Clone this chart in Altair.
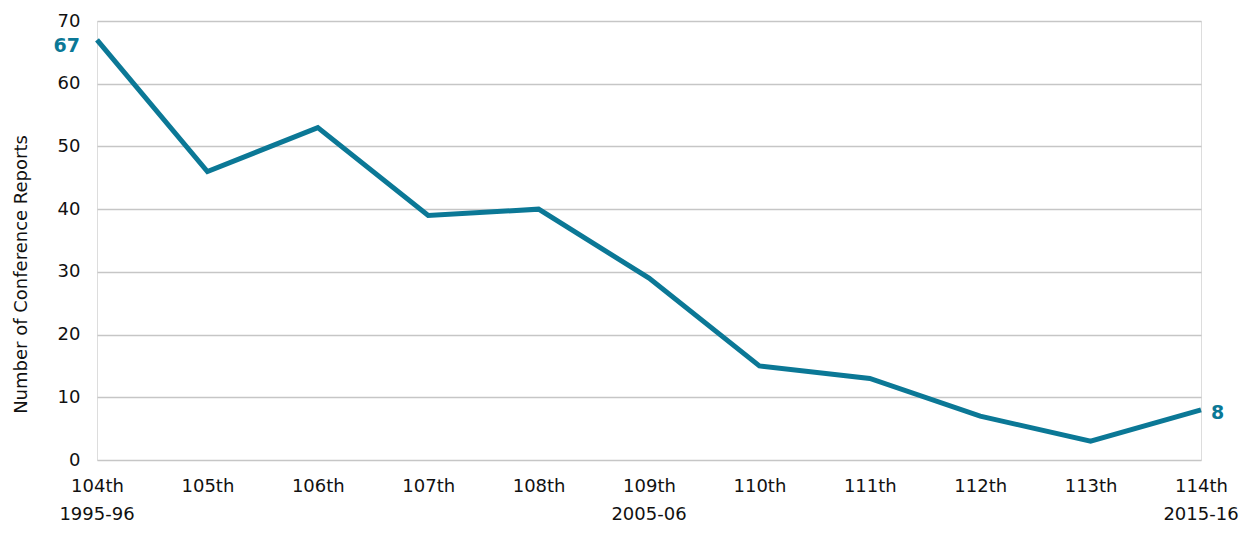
import altair as alt
import pandas as pd

congress = ["104th", "105th", "106th", "107th", "108th", "109th", "110th", "111th", "112th", "113th", "114th"]
reports = [67, 46, 53, 39, 40, 29, 15, 13, 7, 3, 8]
years = ["1995-96", "", "", "", "", "2005-06", "", "", "", "", "2015-16"]

df = pd.DataFrame({"congress": congress, "reports": reports, "years": years})

COLOR = "#0b7896"
FONT = "DejaVu Sans"
FS = 18
W, H = 1104, 439

x = alt.X("congress:O", sort=congress, title=None,
          scale=alt.Scale(type="point", padding=0),
          axis=alt.Axis(labelAngle=0, ticks=False, domain=False, labelPadding=17,
                        labelFontSize=FS, labelColor="#111111", labelFont=FONT))
y = alt.Y("reports:Q", title="Number of Conference Reports",
          scale=alt.Scale(domain=[0, 70], nice=False),
          axis=alt.Axis(values=list(range(0, 71, 10)), ticks=False, domain=False,
                        labelPadding=17, labelFontSize=FS, labelColor="#111111", labelFont=FONT,
                        titleFontSize=FS, titleFont=FONT, titleFontWeight="normal",
                        titleColor="#111111", titleAngle=-90, titleX=-76, titleY=253,
                        titleAlign="center", titleBaseline="middle",
                        gridColor="#c6c6c6", gridWidth=1.3))

base = alt.Chart(df)

line = base.mark_line(color=COLOR, strokeWidth=5, strokeJoin="miter").encode(x=x, y=y)

first = base.transform_filter(alt.datum.congress == "104th").mark_text(
    align="right", baseline="middle", dx=-17, dy=6, fontSize=19, fontWeight="bold",
    color=COLOR, font=FONT).encode(x=x, y=y, text="reports:Q")

last = base.transform_filter(alt.datum.congress == "114th").mark_text(
    align="left", baseline="middle", dx=10, dy=3, fontSize=19, fontWeight="bold",
    color=COLOR, font=FONT).encode(x=x, y=y, text="reports:Q")

yr = base.mark_text(align="center", baseline="alphabetic", fontSize=FS, color="#111111",
                    font=FONT).encode(x=x, y=alt.value(H + 60), text="years:N")

chart = alt.layer(line, first, last, yr).properties(
    width=W, height=H,
    autosize=alt.AutoSizeParams(type="none"),
    padding={"left": 89, "top": 13, "right": 42, "bottom": 65},
).configure_view(stroke=None).configure(background="white")

chart.save("out.html", embed_options={"renderer": "svg", "actions": False})
